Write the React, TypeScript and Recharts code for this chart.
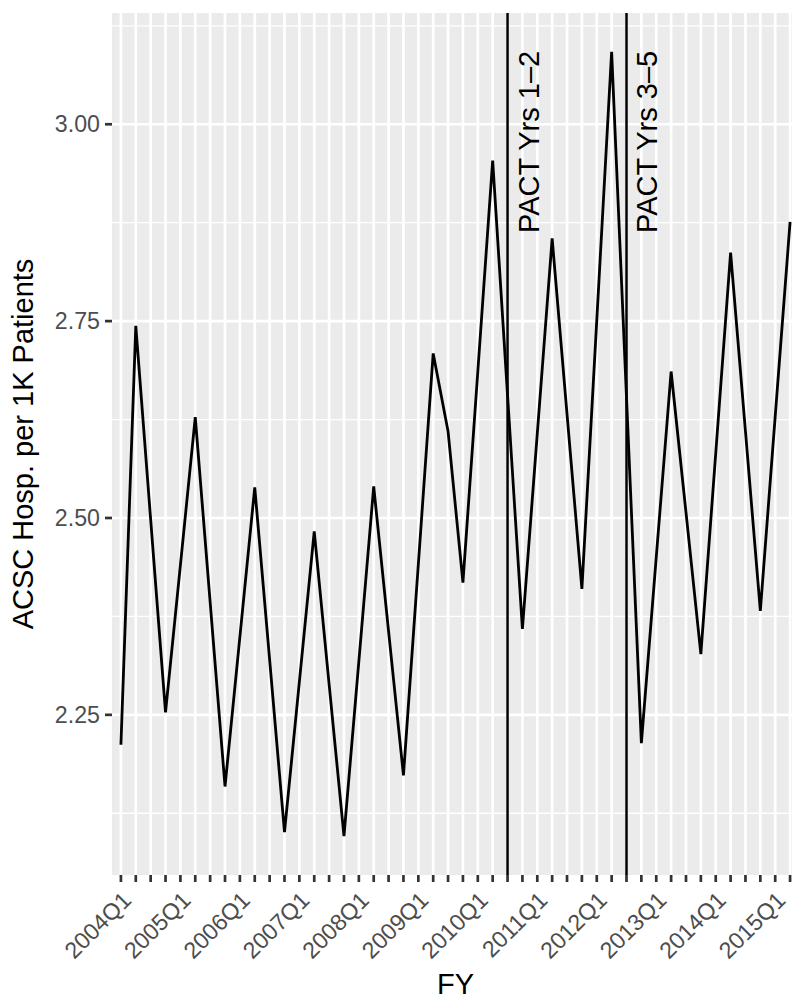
import React from 'react';
import { LineChart, Line, XAxis, YAxis, CartesianGrid, ReferenceLine } from 'recharts';

const quarters = [
  '2004Q1', '2004Q2', '2004Q3', '2004Q4',
  '2005Q1', '2005Q2', '2005Q3', '2005Q4',
  '2006Q1', '2006Q2', '2006Q3', '2006Q4',
  '2007Q1', '2007Q2', '2007Q3', '2007Q4',
  '2008Q1', '2008Q2', '2008Q3', '2008Q4',
  '2009Q1', '2009Q2', '2009Q3', '2009Q4',
  '2010Q1', '2010Q2', '2010Q3', '2010Q4',
  '2011Q1', '2011Q2', '2011Q3', '2011Q4',
  '2012Q1', '2012Q2', '2012Q3', '2012Q4',
  '2013Q1', '2013Q2', '2013Q3', '2013Q4',
  '2014Q1', '2014Q2', '2014Q3', '2014Q4',
  '2015Q1', '2015Q2',
];

const acscRate = [
  2.212, 2.744, 2.498, 2.253,
  2.440, 2.628, 2.393, 2.159,
  2.349, 2.539, 2.320, 2.101,
  2.292, 2.483, 2.289, 2.096,
  2.318, 2.540, 2.356, 2.173,
  2.441, 2.709, 2.610, 2.418,
  2.686, 2.954, 2.656, 2.359,
  2.607, 2.855, 2.632, 2.410,
  2.751, 3.092, 2.653, 2.214,
  2.450, 2.686, 2.507, 2.327,
  2.582, 2.837, 2.610, 2.382,
  2.629, 2.876,
];

const yearTickLabels = [
  '2004Q1', '2005Q1', '2006Q1', '2007Q1', '2008Q1', '2009Q1',
  '2010Q1', '2011Q1', '2012Q1', '2013Q1', '2014Q1', '2015Q1',
];

const yTickValues = [2.25, 2.5, 2.75, 3.0];
const yMinorValues = [2.125, 2.375, 2.625, 2.875, 3.125];

const pactQuarters = ['2010Q3', '2012Q3'];
const pactLabels = ['PACT Yrs 1\u20132', 'PACT Yrs 3\u20135'];
const pactLabelValue = 2.862;

const Y_DOMAIN: [number, number] = [2.0466, 3.1413];
const X_DOMAIN: [number, number] = [-0.6, quarters.length - 1 + 0.6];

const FONT = '"Liberation Sans", Arial, Helvetica, sans-serif';
const TICK_FS = 23.2;
const TITLE_FS = 29;

const data = quarters.map((q, i) => ({ idx: i, quarter: q, rate: acscRate[i] }));
const xIndices = quarters.map((_, i) => i);

const XTick = (props: any) => {
  const { x, y, payload } = props;
  const q = quarters[payload.value];
  if (!q || yearTickLabels.indexOf(q) < 0) return null;
  return (
    <g transform={`translate(${x + 11.6},${y + 14.6})`}>
      <text
        x={0}
        y={0}
        textAnchor="end"
        transform="rotate(-45)"
        fontSize={TICK_FS}
        fill="#4D4D4D"
        fontFamily={FONT}
      >
        {q}
      </text>
    </g>
  );
};

const PactLabel = (props: any) => {
  const { viewBox, text } = props;
  if (!viewBox) return null;
  const { x, y, height } = viewBox;
  const ty = y + ((Y_DOMAIN[1] - pactLabelValue) / (Y_DOMAIN[1] - Y_DOMAIN[0])) * height;
  const tx = x + 31;
  return (
    <text
      x={tx}
      y={ty}
      transform={`rotate(-90 ${tx} ${ty})`}
      textAnchor="start"
      fontSize={TITLE_FS}
      fill="#000000"
      fontFamily={FONT}
    >
      {text}
    </text>
  );
};

const YTitle = (props: any) => {
  const { viewBox } = props;
  if (!viewBox) return null;
  const tx = 33;
  const ty = viewBox.y + viewBox.height / 2;
  return (
    <text
      x={tx}
      y={ty}
      transform={`rotate(-90 ${tx} ${ty})`}
      textAnchor="middle"
      fontSize={TITLE_FS}
      fill="#000000"
      fontFamily={FONT}
    >
      ACSC Hosp. per 1K Patients
    </text>
  );
};

const XTitle = (props: any) => {
  const { viewBox } = props;
  if (!viewBox) return null;
  return (
    <text
      x={viewBox.x + viewBox.width / 2}
      y={994}
      textAnchor="middle"
      fontSize={TITLE_FS}
      fill="#000000"
      fontFamily={FONT}
    >
      FY
    </text>
  );
};

export default function App() {
  return (
    <div
      style={{
        position: 'absolute',
        left: 0,
        top: 0,
        width: 792,
        height: 999,
        overflow: 'hidden',
        background: '#FFFFFF',
      }}
    >
      <LineChart
        width={800}
        height={999}
        data={data}
        margin={{ top: 13, right: 1, bottom: 0, left: 0 }}
      >
        <CartesianGrid
          fill="#EBEBEB"
          stroke="#FFFFFF"
          strokeWidth={1.35}
          vertical={false}
          horizontalValues={yMinorValues}
        />
        <CartesianGrid
          stroke="#FFFFFF"
          strokeWidth={2.7}
          horizontalValues={yTickValues}
          verticalValues={xIndices}
        />
        <XAxis
          dataKey="idx"
          type="number"
          domain={X_DOMAIN}
          ticks={xIndices}
          interval={0}
          allowDataOverflow
          height={124}
          axisLine={false}
          tickLine={{ stroke: '#333333', strokeWidth: 2.7 }}
          tickSize={7}
          tickMargin={5}
          tick={<XTick />}
          label={<XTitle />}
        />
        <YAxis
          type="number"
          domain={Y_DOMAIN}
          ticks={yTickValues}
          interval={0}
          allowDataOverflow
          width={112}
          axisLine={false}
          tickLine={{ stroke: '#333333', strokeWidth: 2.7 }}
          tickSize={7}
          tickMargin={5}
          tickFormatter={(v: number) => v.toFixed(2)}
          tick={{ fontSize: TICK_FS, fill: '#4D4D4D', fontFamily: FONT }}
          label={<YTitle />}
        />
        {pactQuarters.map((q, k) => (
          <ReferenceLine
            key={q}
            x={quarters.indexOf(q)}
            stroke="#000000"
            strokeWidth={2.5}
            label={<PactLabel text={pactLabels[k]} />}
          />
        ))}
        <Line
          type="linear"
          dataKey="rate"
          stroke="#000000"
          strokeWidth={2.8}
          dot={false}
          activeDot={false}
          isAnimationActive={false}
        />
      </LineChart>
    </div>
  );
}
